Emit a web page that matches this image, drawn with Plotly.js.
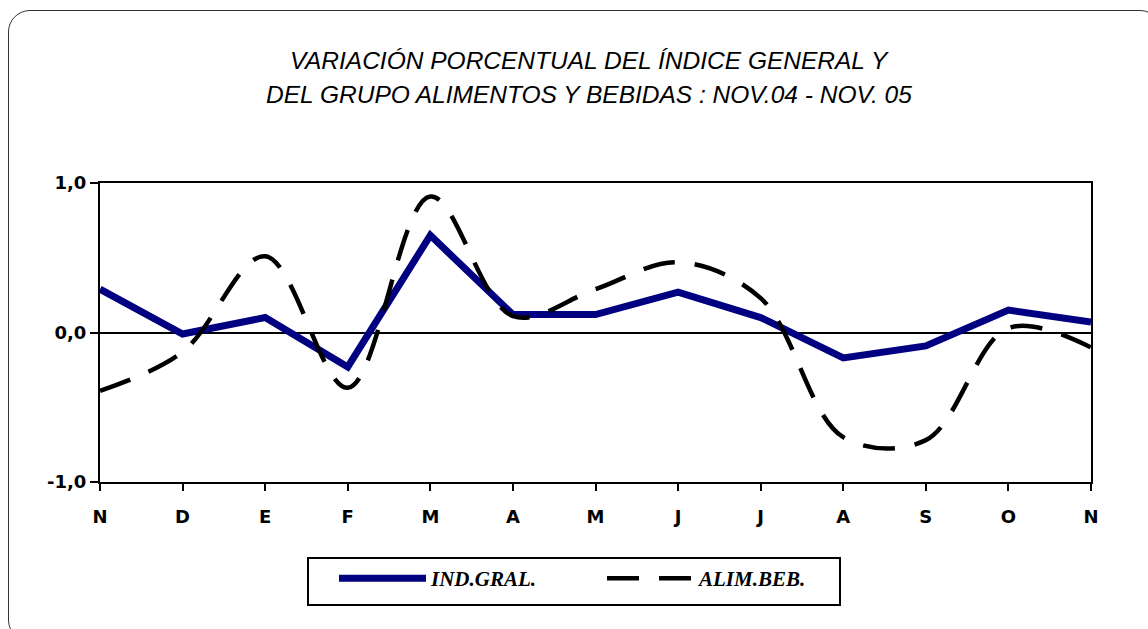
<!DOCTYPE html>
<html>
<head>
<meta charset="utf-8">
<script src="https://cdn.plot.ly/plotly-3.0.1.min.js"></script>
<style>
  body { margin: 0; background: #fff; }
  #wrap { position: relative; width: 1148px; height: 629px; overflow: hidden; }
  #chart { position: absolute; left: 0; top: 0; width: 1148px; height: 629px; }
  #frame {
    position: absolute; left: 8px; top: 10px; width: 1152px; height: 630px;
    border: 1.5px solid #333; border-radius: 22px; pointer-events: none;
  }
</style>
</head>
<body>
<div id="wrap">
  <div id="chart"></div>
  <div id="frame"></div>
</div>
<script>
// --- DATOS ---
const months = ['N', 'D', 'E', 'F', 'M', 'A', 'M', 'J', 'J', 'A', 'S', 'O', 'N'];
const indGral = [0.29, -0.01, 0.10, -0.23, 0.65, 0.12, 0.12, 0.27, 0.10, -0.17, -0.09, 0.15, 0.07];
const alimBeb = [-0.39, -0.13, 0.51, -0.37, 0.91, 0.11, 0.29, 0.47, 0.23, -0.70, -0.72, 0.03, -0.10];
const yTicks = [-1, 0, 1];
const titleLines = [
  'VARIACIÓN PORCENTUAL DEL ÍNDICE GENERAL Y',
  'DEL GRUPO ALIMENTOS Y BEBIDAS : NOV.04 - NOV. 05'
];

const xIdx = months.map((m, i) => i);
const yTickText = yTicks.map(v => v.toFixed(1).replace('.', ','));

// pixeles -> coordenadas paper del area de trazado (100..1091, 183..482)
const px = x => (x - 100) / 991;
const py = y => (482 - y) / 299;

const data = [
  {
    x: xIdx, y: indGral, name: 'IND.GRAL.',
    type: 'scatter', mode: 'lines',
    line: { color: '#000080', width: 7 }
  },
  {
    x: xIdx, y: alimBeb, name: 'ALIM.BEB.',
    type: 'scatter', mode: 'lines',
    line: { color: '#000000', width: 4.5, dash: '32px,20px', shape: 'spline', smoothing: 1 }
  }
];

// titulo en dos lineas (el interlineado del original es mas amplio)
const titleFont = { family: 'Liberation Sans, Arial, sans-serif', size: 24.5, style: 'italic', color: '#000' };
const annotations = titleLines.map((t, i) => ({
  text: t, showarrow: false,
  xref: 'paper', yref: 'paper',
  x: px(589), xanchor: 'center',
  y: py(60 + i * 35), yanchor: 'middle',
  font: titleFont
}));

const layout = {
  width: 1148, height: 629,
  paper_bgcolor: 'rgba(0,0,0,0)',
  plot_bgcolor: '#ffffff',
  showlegend: true,
  margin: { l: 100, r: 57, t: 183, b: 147 },
  annotations: annotations,
  shapes: [{
    type: 'rect', xref: 'paper', yref: 'paper',
    x0: px(308), x1: px(840), y0: py(558), y1: py(605),
    line: { color: '#000', width: 2 }, fillcolor: '#fff', layer: 'below'
  }],
  xaxis: {
    range: [0, 12],
    tickvals: xIdx, ticktext: months,
    ticks: 'outside', ticklen: 7, tickwidth: 1.5, tickcolor: '#000',
    ticklabelstandoff: 10,
    showline: true, linecolor: '#000', linewidth: 2, mirror: true,
    showgrid: false, zeroline: false,
    tickfont: { family: 'DejaVu Sans, sans-serif', size: 18, weight: 'bold', color: '#000' }
  },
  yaxis: {
    range: [-1, 1],
    tickvals: yTicks, ticktext: yTickText,
    ticks: 'outside', ticklen: 8, tickwidth: 1.5, tickcolor: '#000',
    showline: true, linecolor: '#000', linewidth: 2, mirror: true,
    showgrid: false,
    zeroline: true, zerolinecolor: '#000', zerolinewidth: 1.5,
    tickfont: { family: 'DejaVu Sans, sans-serif', size: 18, weight: 'bold', color: '#000' }
  },
  legend: {
    orientation: 'h',
    x: px(602), xanchor: 'center',
    y: py(558), yanchor: 'top',
    borderwidth: 0, bgcolor: 'rgba(0,0,0,0)',
    itemwidth: 87,
    entrywidth: 166,
    font: { family: 'Liberation Serif, Times New Roman, serif', size: 21, style: 'italic', weight: 'bold', color: '#000' }
  }
};

Plotly.newPlot('chart', data, layout, { displayModeBar: false, responsive: false });
</script>
</body>
</html>
